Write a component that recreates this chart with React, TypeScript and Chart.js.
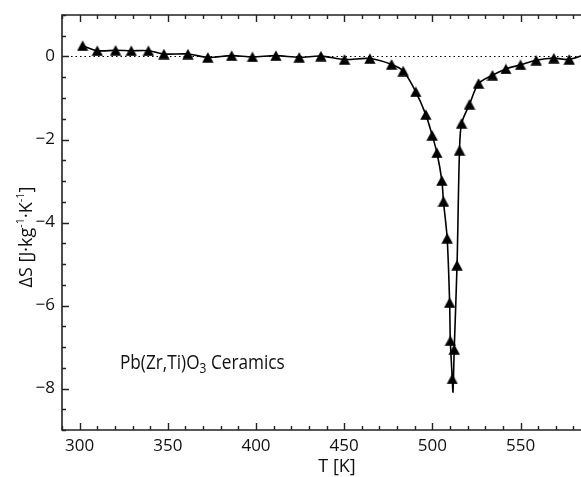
import React, { useEffect, useRef } from "react";
import { Chart, registerables } from "chart.js";
Chart.register(...registerables);

// Temperature [K] and entropy change ΔS [J·kg⁻¹·K⁻¹]
const temperatureK = [
  301.7, 310.0, 320.4, 329.3, 339.0, 347.8, 361.4, 372.7, 386.2, 398.0, 411.3,
  424.5, 436.8, 450.2, 464.6, 476.9, 483.5, 490.6, 496.3, 499.9, 502.6, 505.4,
  506.3, 508.4, 509.8, 510.2, 511.3, 511.7, 512.4, 514.0, 515.4, 516.6, 521.1,
  526.2, 534.1, 541.7, 550.0, 558.9, 568.9, 577.6, 590.0,
];
const deltaS = [
  0.26, 0.14, 0.15, 0.14, 0.14, 0.06, 0.06, -0.02, 0.02, -0.01, 0.02,
  -0.02, 0.01, -0.07, -0.05, -0.19, -0.35, -0.85, -1.4, -1.9, -2.32, -2.99,
  -3.49, -4.38, -5.93, -6.85, -7.77, -8.08, -7.06, -5.03, -2.26, -1.61, -1.15,
  -0.65, -0.45, -0.3, -0.2, -0.09, -0.04, -0.07, 0.1,
];
// indices of curve points drawn without a marker (turning point of the spline)
const unmarkedPoints = [27];

const xTickValues = [300, 350, 400, 450, 500, 550, 600];
const yTickValues = [0, -2, -4, -6, -8];
const xMinorStep = 10;
const yMinorStep = 0.5;
const xRange = [290, 600];
const yRange = [-9, 1];
const xTitle = "T [K]";
const annotationMain = "Pb(Zr,Ti)O";
const annotationSub = "3";
const annotationTail = " Ceramics";

const FAMILY = '"Open Sans", "Noto Sans", sans-serif';
const TICK_FONT = "17px " + FAMILY;

function makeTriangle(): HTMLCanvasElement {
  const c = document.createElement("canvas");
  c.width = 12;
  c.height = 11;
  const g = c.getContext("2d")!;
  g.fillStyle = "#000";
  g.beginPath();
  g.moveTo(0.3, 10.7);
  g.lineTo(6, 0.3);
  g.lineTo(11.7, 10.7);
  g.closePath();
  g.fill();
  return c;
}

const framePlugin = {
  id: "frame",
  beforeDatasetsDraw(chart: any) {
    const { ctx, chartArea, scales } = chart;
    const y0 = scales.y.getPixelForValue(0);
    ctx.save();
    ctx.strokeStyle = "#000";
    ctx.lineWidth = 1;
    ctx.setLineDash([1.5, 3]);
    ctx.beginPath();
    ctx.moveTo(chartArea.left, y0);
    ctx.lineTo(chartArea.right, y0);
    ctx.stroke();
    ctx.restore();
  },
  afterDraw(chart: any) {
    const { ctx, chartArea, scales } = chart;
    const { left, right, top, bottom } = chartArea;
    const xs = scales.x;
    const ys = scales.y;
    ctx.save();
    ctx.strokeStyle = "#222";
    ctx.lineWidth = 1.6;
    ctx.beginPath();
    ctx.moveTo(right + 20, top);
    ctx.lineTo(left, top);
    ctx.lineTo(left, bottom);
    ctx.lineTo(right + 20, bottom);
    ctx.stroke();

    ctx.lineWidth = 1.4;
    ctx.beginPath();
    for (let v = xRange[0]; v <= xRange[1] + 1e-9; v += xMinorStep) {
      const major = xTickValues.includes(Math.round(v));
      const len = major ? 7 : 4;
      const px = Math.round(xs.getPixelForValue(v)) + 0.5;
      ctx.moveTo(px, bottom);
      ctx.lineTo(px, bottom - len);
      ctx.moveTo(px, top);
      ctx.lineTo(px, top + len);
    }
    for (let v = yRange[0]; v <= yRange[1] + 1e-9; v += yMinorStep) {
      const major = yTickValues.some((t) => Math.abs(t - v) < 1e-6);
      const len = major ? 7 : 4;
      const py = Math.round(ys.getPixelForValue(v)) + 0.5;
      ctx.moveTo(left, py);
      ctx.lineTo(left + len, py);
    }
    ctx.stroke();

    ctx.fillStyle = "#111";
    ctx.font = TICK_FONT;
    ctx.textAlign = "center";
    ctx.textBaseline = "middle";
    for (const v of xTickValues) {
      ctx.fillText(String(v), xs.getPixelForValue(v), bottom + 16);
    }
    ctx.textAlign = "right";
    for (const v of yTickValues) {
      const s = v < 0 ? "\u2212" + String(-v) : String(v);
      ctx.fillText(s, left - 7, ys.getPixelForValue(v));
    }

    // x title
    ctx.font = "18px " + FAMILY;
    ctx.textAlign = "center";
    ctx.fillText(xTitle, left + 275, bottom + 37);

    // y title, rotated with superscripts
    const big = "18px " + FAMILY;
    const small = "11px " + FAMILY;
    const parts: [string, boolean][] = [
      ["\u0394S [J\u00b7kg", false],
      ["-1", true],
      ["\u00b7K", false],
      ["-1", true],
      ["]", false],
    ];
    let total = 0;
    for (const [t, sup] of parts) {
      ctx.font = sup ? small : big;
      total += ctx.measureText(t).width;
    }
    ctx.save();
    ctx.translate(25, top + 222);
    ctx.rotate(-Math.PI / 2);
    ctx.textAlign = "left";
    ctx.textBaseline = "alphabetic";
    let u = -total / 2;
    for (const [t, sup] of parts) {
      ctx.font = sup ? small : big;
      ctx.fillText(t, u, sup ? -1 : 7);
      u += ctx.measureText(t).width;
    }
    ctx.restore();

    // annotation
    ctx.save();
    ctx.translate(left + 58, bottom - 61);
    ctx.scale(0.86, 1);
    ctx.textAlign = "left";
    ctx.textBaseline = "alphabetic";
    const annBig = "20px " + FAMILY;
    const annSmall = "14px " + FAMILY;
    let ax = 0;
    ctx.font = annBig;
    ctx.fillText(annotationMain, ax, 0);
    ax += ctx.measureText(annotationMain).width;
    ctx.font = annSmall;
    ctx.fillText(annotationSub, ax, 4);
    ax += ctx.measureText(annotationSub).width;
    ctx.font = annBig;
    ctx.fillText(annotationTail, ax, 0);
    ctx.restore();

    ctx.restore();
  },
};

export default function App() {
  const ref = useRef<HTMLCanvasElement | null>(null);
  useEffect(() => {
    if (!ref.current) return;
    const tri = makeTriangle();
    const points = temperatureK.map((t, i) => ({ x: t, y: deltaS[i] }));
    const chart = new Chart(ref.current, {
      type: "scatter",
      data: {
        datasets: [
          {
            data: points,
            showLine: true,
            borderColor: "#000",
            backgroundColor: "#000",
            borderWidth: 1.6,
            tension: 0.3,
            pointStyle: tri as any,
            pointRadius: (c: any) => (unmarkedPoints.includes(c.dataIndex) ? 0 : 6),
            pointHoverRadius: 6,
          },
        ],
      },
      options: {
        responsive: false,
        animation: false,
        events: [],
        layout: { padding: { top: 15, right: 11.3, left: 0, bottom: 0 } },
        plugins: { legend: { display: false }, tooltip: { enabled: false } },
        scales: {
          x: {
            type: "linear",
            min: xRange[0],
            max: xRange[1],
            grid: { display: false },
            border: { display: false },
            ticks: { display: false },
            afterFit: (s: any) => {
              s.height = 47;
            },
          },
          y: {
            type: "linear",
            min: yRange[0],
            max: yRange[1],
            grid: { display: false },
            border: { display: false },
            ticks: { display: false },
            afterFit: (s: any) => {
              s.width = 62;
            },
          },
        },
      },
      plugins: [framePlugin],
    });
    return () => chart.destroy();
  }, []);
  return (
    <div
      style={{
        position: "absolute",
        left: 0,
        top: 0,
        width: 581,
        height: 477,
        overflow: "hidden",
        background: "#fff",
      }}
    >
      <canvas ref={ref} width={620} height={477} style={{ display: "block" }} />
    </div>
  );
}
